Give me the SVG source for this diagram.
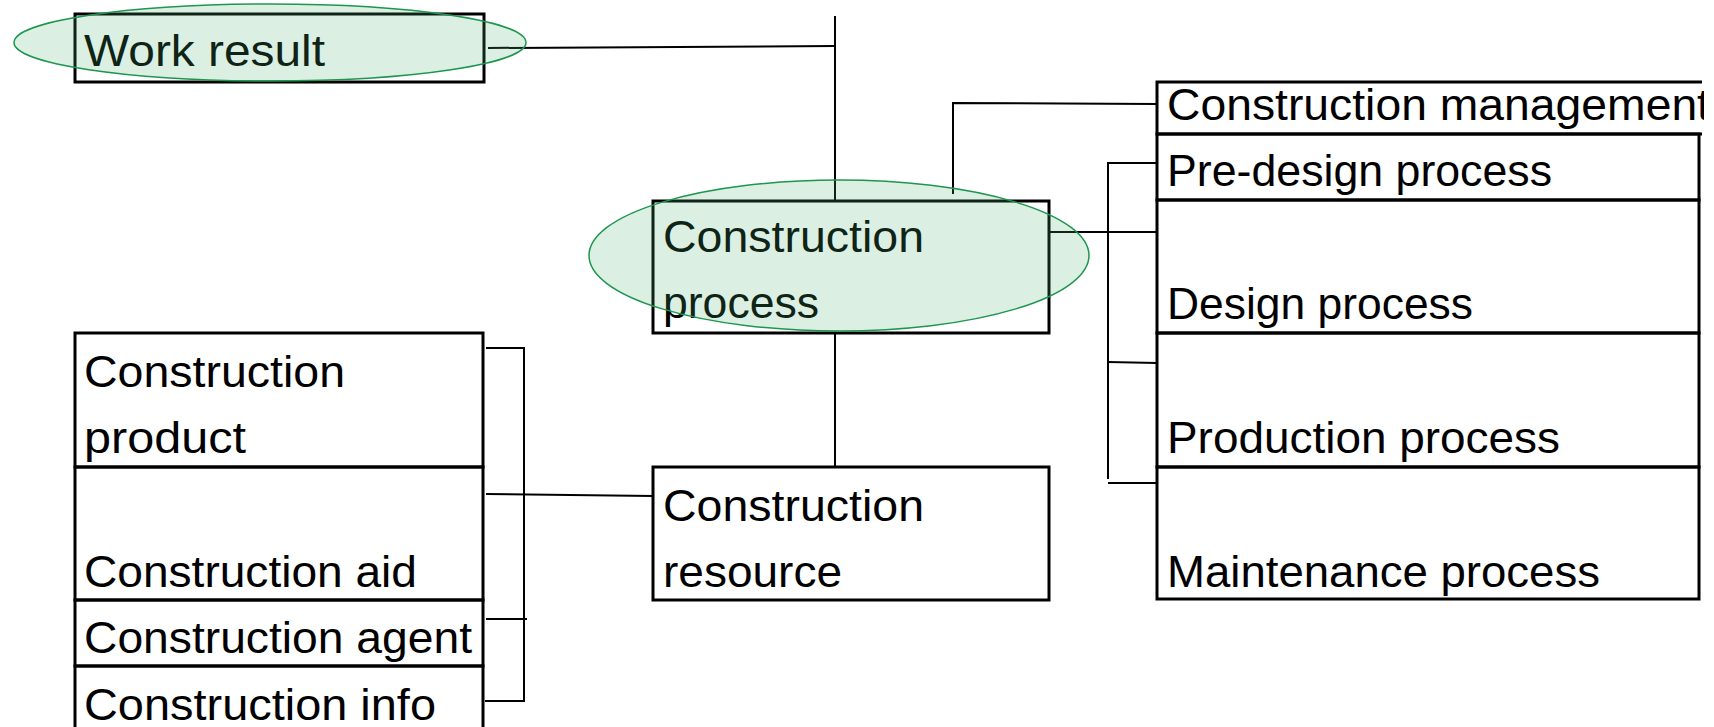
<svg xmlns="http://www.w3.org/2000/svg" width="1714" height="727" viewBox="0 0 1714 727">
<style>
.box{fill:none;stroke:#000;stroke-width:3}
.t{font-family:"Liberation Sans",Arial,sans-serif;font-size:45px;fill:#000}
.c{fill:none;stroke:#000;stroke-width:2}
.hl{fill:#4caf72;fill-opacity:0.2;stroke:#1e9650;stroke-width:1.5}
</style>
<defs>
<clipPath id="clipR"><rect x="0" y="0" width="1704" height="727"/></clipPath>
</defs>
<rect width="1714" height="727" fill="#fff"/>
<g id="connectors">
<path class="c" d="M488,48 L835,46"/>
<path class="c" d="M835,16 L835,202"/>
<path class="c" d="M835,333 L835,467"/>
<path class="c" d="M953,194 L953,103 L1157,104"/>
<path class="c" d="M1049,232 L1157,232"/>
<path class="c" d="M1157,163 L1108,163 L1108,479"/>
<path class="c" d="M1108,362 L1157,363"/>
<path class="c" d="M1108,483 L1157,483"/>
<path class="c" d="M486,494 L653,496"/>
<path class="c" d="M486,348 L524,348 L524,701 L485,701"/>
<path class="c" d="M486,619 L527,619"/>
</g>
<g id="work-result">
<rect class="box" x="75" y="14" width="409" height="68"/>
<text class="t" x="84" y="66" textLength="241" lengthAdjust="spacingAndGlyphs">Work result</text>
<ellipse class="hl" cx="270" cy="42.5" rx="256" ry="38.5"/>
</g>
<g id="construction-process">
<rect class="box" x="653" y="201" width="396" height="132"/>
<text class="t" x="663" y="252" textLength="261" lengthAdjust="spacingAndGlyphs">Construction</text>
<text class="t" x="663" y="318" textLength="156" lengthAdjust="spacingAndGlyphs">process</text>
<ellipse class="hl" cx="839" cy="255.5" rx="250" ry="75.5"/>
</g>
<g id="construction-resource">
<rect class="box" x="653" y="467" width="396" height="133"/>
<text class="t" x="663" y="521" textLength="261" lengthAdjust="spacingAndGlyphs">Construction</text>
<text class="t" x="663" y="587" textLength="179" lengthAdjust="spacingAndGlyphs">resource</text>
</g>
<g id="construction-management">
<path class="box" d="M1702,82 L1157,82 L1157,134 L1702,134"/>
<text class="t" x="1167" y="120" textLength="543" lengthAdjust="spacingAndGlyphs" clip-path="url(#clipR)">Construction management</text>
</g>
<g id="pre-design-process">
<rect class="box" x="1157" y="134" width="542" height="66"/>
<text class="t" x="1167" y="186" textLength="385" lengthAdjust="spacingAndGlyphs">Pre-design process</text>
</g>
<g id="design-process">
<rect class="box" x="1157" y="200" width="542" height="133"/>
<text class="t" x="1167" y="319" textLength="306" lengthAdjust="spacingAndGlyphs">Design process</text>
</g>
<g id="production-process">
<rect class="box" x="1157" y="333" width="542" height="134"/>
<text class="t" x="1167" y="453" textLength="393" lengthAdjust="spacingAndGlyphs">Production process</text>
</g>
<g id="maintenance-process">
<rect class="box" x="1157" y="467" width="542" height="132"/>
<text class="t" x="1167" y="587" textLength="433" lengthAdjust="spacingAndGlyphs">Maintenance process</text>
</g>
<g id="construction-product">
<rect class="box" x="75" y="333" width="408" height="134"/>
<text class="t" x="84" y="387" textLength="261" lengthAdjust="spacingAndGlyphs">Construction</text>
<text class="t" x="84" y="453" textLength="162" lengthAdjust="spacingAndGlyphs">product</text>
</g>
<g id="construction-aid">
<rect class="box" x="75" y="467" width="408" height="133"/>
<text class="t" x="84" y="587" textLength="333" lengthAdjust="spacingAndGlyphs">Construction aid</text>
</g>
<g id="construction-agent">
<rect class="box" x="75" y="600" width="408" height="66"/>
<text class="t" x="84" y="653" textLength="388" lengthAdjust="spacingAndGlyphs">Construction agent</text>
</g>
<g id="construction-info">
<path class="box" d="M75,740 L75,666 L483,666 L483,740"/>
<text class="t" x="84" y="720" textLength="352" lengthAdjust="spacingAndGlyphs">Construction info</text>
</g>
</svg>
